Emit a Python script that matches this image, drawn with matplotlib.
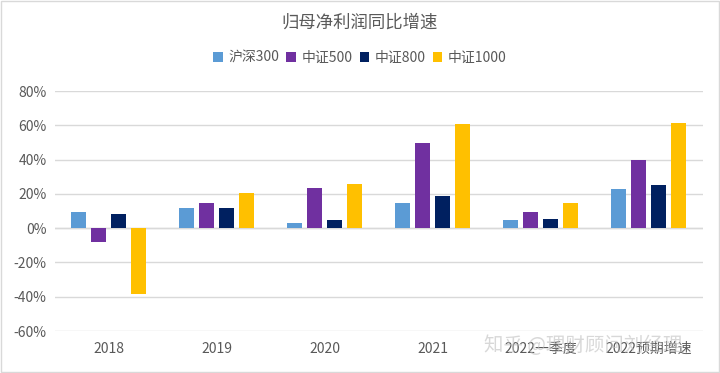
import numpy as np
import matplotlib.pyplot as plt
from matplotlib.ticker import FuncFormatter

plt.rcParams['font.family'] = ['Noto Sans CJK SC', 'DejaVu Sans']

categories = ['2018', '2019', '2020', '2021', '2022一季度', '2022预期增速']
series = ['沪深300', '中证500', '中证800', '中证1000']
hs300 = [0.095, 0.12, 0.03, 0.148, 0.047, 0.227]
zz500 = [-0.08, 0.146, 0.235, 0.497, 0.097, 0.397]
zz800 = [0.08, 0.12, 0.045, 0.187, 0.056, 0.249]
zz1000 = [-0.385, 0.205, 0.257, 0.605, 0.146, 0.616]
colors = ['#5B9BD5', '#7030A0', '#002060', '#FFC000']

fig = plt.figure(figsize=(7.2, 3.73), dpi=100)
ax = fig.add_axes([0.076, 0.1126, 0.9, 0.6434])

x = np.arange(len(categories))
step = 0.185
width = 0.14
for i, (vals, name) in enumerate(zip([hs300, zz500, zz800, zz1000], series)):
    ax.bar(x + (i - 1.5) * step, vals, width, color=colors[i], label=name, zorder=3)

ax.set_xlim(-0.5, len(categories) - 0.5)
ax.set_ylim(-0.6, 0.8)
ax.set_yticks(np.arange(-0.6, 0.81, 0.2))
ax.yaxis.set_major_formatter(FuncFormatter(lambda v, p: '%d%%' % round(v * 100)))
ax.set_xticks(x)
ax.set_xticklabels(categories)
ax.grid(axis='y', color='#D9D9D9', linewidth=1, zorder=0)
ax.axhline(0, color='#D9D9D9', linewidth=1, zorder=1)
for s in ax.spines.values():
    s.set_visible(False)
ax.tick_params(axis='both', length=0, colors='#595959', labelsize=10)
ax.tick_params(axis='y', pad=6)
ax.tick_params(axis='x', pad=8)

fig.text(0.5, 0.94, '归母净利润同比增速', ha='center', va='center', fontsize=12.5, color='#595959')
fig.legend(loc='center', bbox_to_anchor=(0.5, 0.845), ncol=4, frameon=False, fontsize=10,
           handlelength=0.7, handleheight=0.7, handletextpad=0.4, columnspacing=0.5,
           labelcolor='#595959')

# watermark
fig.text(0.672, 0.075, '知乎 @理财顾问刘经理', fontsize=14, color='#BFBFBF', alpha=0.6, va='center')

fig.patches.append(plt.Rectangle((0.002, 0.003), 0.996, 0.994, transform=fig.transFigure,
                                 fill=False, edgecolor='#D9D9D9', linewidth=1))

fig.savefig('out.png', dpi=100)
